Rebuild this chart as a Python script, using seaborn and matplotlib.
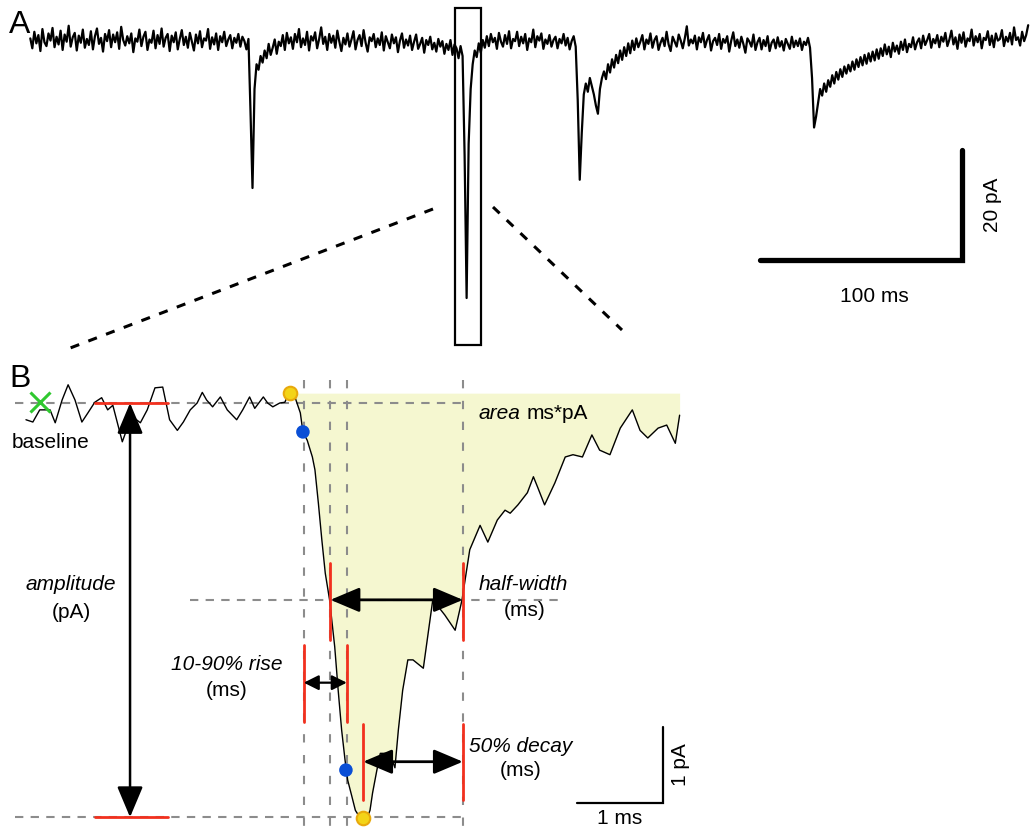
import numpy as np
import pandas as pd
import matplotlib
matplotlib.use("Agg")
import matplotlib.pyplot as plt
from matplotlib.patches import Rectangle
from matplotlib.lines import Line2D
import seaborn as sns

# ---------------- data ----------------
# Panel A: continuous recording, one sample every 1 ms (pA, 0 = baseline)
trace_a_dt_ms = 1.0
trace_a_pA = [
    1.2, -0.6, 2.4, 0.3, 1.8, -1.1, 2.9, 0.5, -0.2, 2.1,
    0.8, 3.1, -0.4, 1.5, 0.1, 2.6, -0.9, 1.9, 0.6, 3.5,
    -0.3, 1.4, 2.2, -1.0, 1.7, 0.4, 2.8, -0.5, 1.1, 0.0,
    2.5, -0.8, 1.6, 3.0, 0.2, 1.3, -1.2, 2.0, 0.7, 2.7,
    -0.4, 1.9, 0.5, 2.3, -0.7, 3.3, 0.9, -0.1, 1.6, 0.3,
    2.1, -1.3, 1.2, 0.6, 2.8, -0.2, 1.5, 2.4, -0.9, 1.0,
    0.4, 2.6, -0.6, 1.8, 0.2, 3.0, -0.3, 1.3, 2.0, -1.1,
    1.7, 0.5, 2.3, -0.8, 1.1, 2.7, 0.0, 1.5, -0.5, 2.2,
    0.6, -1.0, 1.9, 0.3, 2.5, -0.4, 1.2, 0.8, 2.9, -0.7,
    1.4, 0.1, 2.1, -0.9, 1.6, 0.5, 2.4, -0.2, 1.0, 1.8,
    -0.6, 1.3, 0.4, 2.0, -0.3, 1.5, 0.7, -0.8, 1.1, -12.0,
    -26.0, -8.0, -3.5, -4.5, -2.0, -3.2, -1.0, -2.4, 0.2, -1.8,
    -0.5, 1.0, -1.6, 0.6, -0.2, 1.8, -0.9, 2.2, 0.3, 1.4,
    -0.7, 2.0, 0.5, 2.9, -0.4, 1.2, 0.0, 2.4, -1.0, 1.6,
    0.8, 2.3, -0.6, 1.1, 3.2, 0.2, 1.5, -0.9, 2.0, 0.4,
    1.7, -0.5, 2.6, 0.6, -1.1, 1.3, 0.1, 2.1, -0.3, 1.0,
    2.5, -0.8, 0.9, 1.8, -0.2, 2.7, 0.4, -1.2, 1.4, 0.7,
    2.0, -0.4, 1.2, 0.0, 2.3, -1.0, 1.6, 0.5, -0.6, 1.9,
    0.3, 1.4, -1.3, 0.8, 2.1, -0.5, 1.0, -0.1, 1.7, -0.9,
    0.6, 1.9, -0.7, 0.2, 1.3, -1.4, 0.9, 0.0, 1.5, -0.8,
    0.4, -1.2, 1.1, -0.3, 0.7, -1.6, 0.2, -0.9, 0.9, -1.8,
    0.1, -0.6, -2.4, -0.2, -2.0, -20.0, -46.0, -18.0, -8.0, -3.5,
    -1.0, -2.2, 0.3, -1.4, 0.9, -0.5, 1.6, -0.2, 2.0, 0.5,
    1.3, -0.7, 2.2, 0.6, -0.3, 1.8, 0.2, 2.5, -0.6, 1.1,
    0.7, 2.4, -0.2, 1.5, 0.3, 2.0, -0.9, 1.2, 0.5, 2.8,
    -0.4, 1.6, 0.8, 2.1, -0.7, 1.0, 0.2, 1.8, -0.3, 0.9,
    1.5, -0.6, 1.1, 0.3, 2.0, -0.1, 1.3, -0.8, 0.7, 1.6,
    -0.3, -10.0, -24.5, -16.0, -9.0, -7.0, -8.5, -6.0, -7.5, -9.0,
    -11.0, -12.5, -8.0, -6.0, -4.8, -6.2, -3.5, -5.0, -2.6, -4.1,
    -1.8, -3.3, -1.0, -2.7, -0.4, -2.0, 0.3, -1.5, 0.8, -0.9,
    1.2, -0.4, 0.6, 1.8, -0.8, 1.0, 0.2, 2.1, -0.5, 0.9,
    1.6, -0.9, 0.4, 1.3, -0.2, 2.4, 0.1, -1.1, 1.5, 0.6,
    -0.3, 1.9, 0.8, -0.6, 1.2, 3.4, -0.1, 1.0, 0.3, 1.7,
    -0.8, 1.4, 0.5, 2.2, -0.4, 0.9, 1.8, -1.0, 0.7, 1.3,
    0.0, 2.0, -0.7, 1.1, 0.4, 1.6, -1.2, 0.8, 2.3, -0.2,
    1.0, -0.5, 1.5, 0.2, -1.4, 1.2, 0.6, -0.3, 1.9, -0.9,
    0.5, 1.3, -0.8, 0.9, -0.2, 1.6, -1.1, 0.4, 1.0, -0.6,
    1.4, -0.3, 0.7, -1.0, 1.1, 0.2, -0.7, 1.5, -0.4, 0.8,
    -0.2, 1.2, -0.9, 0.6, 0.0, 1.3, -0.5, -6.0, -15.0, -13.0,
    -10.5, -8.0, -9.2, -7.0, -8.5, -6.4, -7.6, -5.5, -7.0, -4.9,
    -6.3, -4.4, -5.8, -3.9, -5.2, -3.6, -4.8, -3.0, -4.5, -2.6,
    -4.0, -2.2, -3.7, -1.8, -3.4, -1.5, -3.0, -1.2, -2.8, -0.8,
    -2.5, -0.6, -2.0, 0.1, -1.7, -0.3, -2.2, 0.4, -1.2, -0.1,
    -1.6, 0.6, -0.9, 1.0, -1.3, 0.2, -0.4, 1.4, -0.8, 0.5,
    1.2, -0.6, 1.7, 0.0, 0.9, 2.0, -0.5, 1.1, 0.3, 1.8,
    -0.4, 1.5, 0.6, 2.2, -0.2, 1.0, 2.6, 0.1, 1.4, -0.7,
    1.9, 0.4, 2.3, -0.3, 1.2, 0.7, 2.8, -0.1, 1.6, 0.5,
    2.0, -0.6, 1.3, 0.9, 2.5, 0.0, 1.7, -0.4, 2.1, 0.8,
    1.1, 2.7, -0.2, 1.5, 0.6, 2.2, 0.1, 3.2, 0.9, 1.4,
    -0.1, 2.4, 0.7, 1.8, 3.6,
]
zoom_box_ms = (210.2, 223.1)          # boxed event shown in panel B
scale_a_ms, scale_a_pA = 100, 20

# Panel B: the boxed event, expanded
trace_b_ms = [
    0.00, 0.08, 0.16, 0.28, 0.34, 0.42, 0.49, 0.57, 0.65, 0.72,
    0.80, 0.88, 0.95, 1.01, 1.12, 1.19, 1.24, 1.33, 1.41, 1.50,
    1.59, 1.67, 1.76, 1.83, 1.91, 1.99, 2.05, 2.10, 2.17, 2.26,
    2.34, 2.45, 2.52, 2.60, 2.66, 2.76, 2.81, 2.87, 2.95, 3.01,
    3.06, 3.13, 3.19, 3.22, 3.27, 3.33, 3.36, 3.40, 3.44, 3.48,
    3.53, 3.59, 3.63, 3.67, 3.71, 3.74, 3.79, 3.83, 3.88, 3.92,
    3.97, 4.00, 4.03, 4.08, 4.12, 4.23, 4.29, 4.33, 4.38, 4.44,
    4.50, 4.62, 4.67, 4.73, 4.78, 4.87, 4.99, 5.07, 5.16, 5.28,
    5.37, 5.48, 5.57, 5.63, 5.72, 5.83, 5.90, 5.95, 6.03, 6.15,
    6.27, 6.36, 6.47, 6.58, 6.67, 6.79, 6.91, 7.05, 7.14, 7.23,
    7.35, 7.45, 7.55, 7.60,
]
trace_b_pA = [
    -0.22, -0.25, -0.09, -0.09, -0.26, 0.04, 0.24, 0.04, -0.25, -0.13,
    0.01, 0.07, -0.09, -0.03, -0.51, -0.29, -0.18, -0.26, -0.09, 0.20,
    0.21, -0.22, -0.36, -0.25, -0.09, 0.00, 0.14, 0.04, -0.05, 0.08,
    -0.09, -0.22, -0.09, 0.08, -0.07, 0.08, 0.00, -0.05, 0.00, 0.01,
    0.14, 0.07, -0.13, -0.38, -0.49, -0.71, -0.88, -1.32, -1.80, -2.24,
    -2.59, -3.21, -3.78, -4.30, -4.70, -4.96, -5.18, -5.36, -5.45, -5.39,
    -5.45, -5.36, -5.13, -4.83, -4.61, -4.61, -4.80, -4.30, -3.78, -3.38,
    -3.38, -3.49, -3.08, -2.59, -2.66, -2.79, -2.99, -2.59, -1.93, -1.61,
    -1.83, -1.54, -1.41, -1.45, -1.34, -1.18, -0.97, -1.11, -1.34, -1.05,
    -0.71, -0.68, -0.71, -0.42, -0.62, -0.68, -0.33, -0.09, -0.36, -0.46,
    -0.33, -0.29, -0.53, -0.16,
]
baseline_pA = 0.0
peak_pA = -5.45
half_amp_pA = -2.59
onset_ms, onset_pA = 3.07, 0.13
peak_ms = 3.92
rise10_ms, rise90_ms = 3.23, 3.73
half_start_ms, half_end_ms = 3.54, 5.08
decay_end_ms = 5.08
baseline_win_ms = (0.80, 1.65)
baseline_start_ms = 0.16
blue_ms, blue_pA = [3.22, 3.72], [-0.38, -4.83]
yellow_ms, yellow_pA = [3.07, 3.92], [0.13, -5.46]
scale_b_ms, scale_b_pA = 1, 1

# ---------------- figure ----------------
sns.set_style("white")
plt.rcParams["font.family"] = ["Liberation Sans", "DejaVu Sans"]
plt.rcParams["text.color"] = "black"

W, H = 1030, 832
fig = plt.figure(figsize=(W / 100, H / 100), dpi=100)


def fpx(x, y):
    return x / W, 1 - y / H


RED = "#f2301e"
GREY = "#8c8c8c"
FS = 15

# ---- panel A ----
axA = fig.add_axes([0, 1 - 350 / H, 1, 350 / H])
ta = np.arange(len(trace_a_pA)) * trace_a_dt_ms
dfa = pd.DataFrame({"t": ta, "i": trace_a_pA})
sns.lineplot(data=dfa, x="t", y="i", ax=axA, color="black", lw=1.6,
             estimator=None, sort=False)
axA.set_xlim(-15, 494.9)
axA.set_ylim(-55.45, 8.18)
axA.set_axis_off()
axA.add_patch(Rectangle((zoom_box_ms[0], -54.5), zoom_box_ms[1] - zoom_box_ms[0],
                        6.73 + 54.5, fill=False, ec="black", lw=1.6, zorder=5))
# scale bar A
sx0, sy0 = 361.2, -39.1
axA.plot([sx0, sx0 + scale_a_ms, sx0 + scale_a_ms],
         [sy0, sy0, sy0 + scale_a_pA], color="black", lw=3.8,
         solid_capstyle="round", solid_joinstyle="miter")
fig.text(*fpx(874, 296), f"{scale_a_ms} ms", ha="center", va="center", fontsize=FS)
fig.text(*fpx(993, 205), f"{scale_a_pA} pA", ha="center", va="center",
         fontsize=FS, rotation=90)
# connecting dashed lines
for (x0, y0, x1, y1) in [(433, 209, 65, 350), (493, 207, 622, 330)]:
    fig.add_artist(Line2D([x0 / W, x1 / W], [1 - y0 / H, 1 - y1 / H],
                          color="black", lw=2.2, ls=(0, (3, 3.2))))

# ---- panel B ----
axB = fig.add_axes([0, 0, 1, 477 / H])
axB.set_xlim(-0.302, 11.674)
axB.set_ylim(-5.645, 0.632)
axB.set_axis_off()

tb = np.array(trace_b_ms)
ib = np.array(trace_b_pA)
m = tb >= onset_ms - 0.01
axB.fill_between(tb[m], ib[m], onset_pA, color="#f5f7d0", lw=0, zorder=0)

hdash = dict(color=GREY, lw=1.5, ls=(0, (4, 3.5)), zorder=1)
vdash = dict(color=GREY, lw=1.5, ls=(0, (4, 6)), zorder=1)
axB.plot([-0.13, half_end_ms], [baseline_pA, baseline_pA], **hdash)
axB.plot([-0.13, half_end_ms], [peak_pA, peak_pA], **hdash)
axB.plot([1.91, 6.27], [half_amp_pA, half_amp_pA], **hdash)
for tx in [rise10_ms, half_start_ms, rise90_ms, half_end_ms]:
    axB.plot([tx, tx], [0.30, -5.7], **vdash)

dfb = pd.DataFrame({"t": tb, "i": ib})
sns.lineplot(data=dfb, x="t", y="i", ax=axB, color="black", lw=1.0,
             estimator=None, sort=False, zorder=3)

# red markers
red = dict(color=RED, lw=2.0, zorder=4)
axB.plot(baseline_win_ms, [baseline_pA] * 2, **red)
axB.plot(baseline_win_ms, [peak_pA] * 2, **red)
for tx in [half_start_ms, half_end_ms]:
    axB.plot([tx, tx], [-2.11, -3.12], **red)
for tx in [rise10_ms, rise90_ms]:
    axB.plot([tx, tx], [-3.18, -4.20], **red)
for tx in [peak_ms, decay_end_ms]:
    axB.plot([tx, tx], [-4.22, -5.22], **red)


def darrow(x0, y0, x1, y1, ms, hl, hw, lw):
    axB.annotate("", xy=(x1, y1), xytext=(x0, y0),
                 arrowprops=dict(arrowstyle=f"<|-|>,head_length={hl},head_width={hw}",
                                 mutation_scale=ms, lw=lw, color="black",
                                 shrinkA=0, shrinkB=0), zorder=6)


darrow(1.21, baseline_pA, 1.21, peak_pA, 20, 0.95, 0.4, 1.8)
darrow(half_start_ms, half_amp_pA, half_end_ms, half_amp_pA, 20, 0.9, 0.38, 2.0)
darrow(rise10_ms, -3.68, rise90_ms, -3.68, 10, 0.9, 0.45, 1.6)
darrow(peak_ms, -4.72, decay_end_ms, -4.72, 20, 0.9, 0.38, 2.0)

sns.scatterplot(x=blue_ms, y=blue_pA, ax=axB, color="#0a4fd6", s=95,
                edgecolor="none", zorder=7)
sns.scatterplot(x=yellow_ms, y=yellow_pA, ax=axB, color="#f3d417", s=95,
                edgecolor="#e8a90c", linewidth=1.5, zorder=7)
axB.plot([baseline_start_ms], [0.01], marker="x", color="#2fc82f", ms=15,
         mew=2.2, zorder=7)

# scale bar B
bx0, by0 = 6.41, -5.26
axB.plot([bx0, bx0 + scale_b_ms, bx0 + scale_b_ms],
         [by0, by0, by0 + scale_b_pA], color="black", lw=1.6,
         solid_joinstyle="miter")
fig.text(*fpx(620, 819), f"{scale_b_ms} ms", ha="center", va="center", fontsize=FS)
fig.text(*fpx(681, 765), f"{scale_b_pA} pA", ha="center", va="center",
         fontsize=FS, rotation=90)

# labels
fig.text(*fpx(9, 33), "A", fontsize=23, ha="left", va="baseline")
fig.text(*fpx(9, 387), "B", fontsize=23, ha="left", va="baseline")
fig.text(*fpx(12, 442), "baseline", fontsize=FS, ha="left", va="center")
fig.text(*fpx(71, 585), "amplitude", fontsize=FS, ha="center", va="center",
         style="italic")
fig.text(*fpx(71, 612), "(pA)", fontsize=FS, ha="center", va="center")
fig.text(*fpx(479, 413), "area", fontsize=FS, ha="left", va="center",
         style="italic")
fig.text(*fpx(527, 413), "ms*pA", fontsize=FS, ha="left", va="center")
fig.text(*fpx(479, 584), "half-width", fontsize=FS, ha="left", va="center",
         style="italic")
fig.text(*fpx(525, 610), "(ms)", fontsize=FS, ha="center", va="center")
fig.text(*fpx(227, 664), "10-90% rise", fontsize=FS, ha="center", va="center",
         style="italic")
fig.text(*fpx(227, 690), "(ms)", fontsize=FS, ha="center", va="center")
fig.text(*fpx(469, 746), "50% decay", fontsize=FS, ha="left", va="center",
         style="italic")
fig.text(*fpx(521, 771), "(ms)", fontsize=FS, ha="center", va="center")

fig.savefig("out.png", dpi=100)
